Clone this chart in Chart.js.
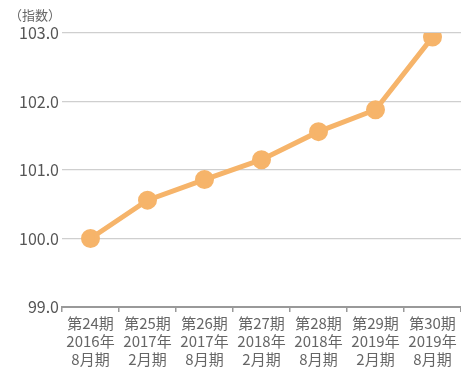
<!DOCTYPE html>
<html>
<head>
<meta charset="utf-8">
<script src="https://cdn.jsdelivr.net/npm/chart.js@4"></script>
<style>
  body { margin: 0; background: #fff; }
  #wrap { position: relative; width: 461px; height: 374px; }
  #unidad { position: absolute; left: 9px; top: 5px; font: 13px "Noto Sans CJK JP"; color: #666; }
</style>
</head>
<body>
<div id="wrap">
  <canvas id="grafica" width="461" height="374"></canvas>
  <div id="unidad">（指数）</div>
</div>
<script>
// periodos y valores del índice
const periodos = [
  ["第24期", "2016年", "8月期"],
  ["第25期", "2017年", "2月期"],
  ["第26期", "2017年", "8月期"],
  ["第27期", "2018年", "2月期"],
  ["第28期", "2018年", "8月期"],
  ["第29期", "2019年", "2月期"],
  ["第30期", "2019年", "8月期"]
];
const indice = [100.0, 100.56, 100.86, 101.15, 101.56, 101.88, 102.94];
const ejeY = { min: 99, max: 103, paso: 1 };

const naranja = "#f6b46a";
const fuente = "'Noto Sans CJK JP', sans-serif";

const ctx = document.getElementById("grafica").getContext("2d");

let grafico = new Chart(ctx, {
  type: "line",
  data: {
    labels: periodos,
    datasets: [
      {
        data: indice,
        borderColor: naranja,
        backgroundColor: naranja,
        borderWidth: 5,
        pointRadius: 7,
        pointHoverRadius: 7,
        fill: false,
        tension: 0,
      },
    ],
  },
  options: {
    responsive: false,
    animation: false,
    // sin autoPadding: el área llega hasta el borde derecho
    layout: { autoPadding: false, padding: { top: 33, right: 0, left: 0, bottom: 0 } },
    plugins: { legend: { display: false }, tooltip: { enabled: false } },
    scales: {
      x: {
        offset: true,
        grid: {
          offset: true,
          drawOnChartArea: false,
          drawTicks: true,
          tickLength: 5,
          color: "#999",
          lineWidth: 1.5,
        },
        border: { color: "#999", width: 2 },
        ticks: {
          color: "#666",
          font: { family: fuente, size: 15, lineHeight: 1.2 },
          padding: 2,
          maxRotation: 0,
          autoSkip: false,
        },
        afterFit: (scale) => {
          scale.height = 67;
          scale.paddingLeft = 0;
          scale.paddingRight = 0;
        },
      },
      y: {
        min: ejeY.min,
        max: ejeY.max,
        grid: { color: "#cfcfcf", lineWidth: 1.2, drawTicks: false },
        border: { display: false },
        ticks: {
          stepSize: ejeY.paso,
          color: "#555",
          padding: 3,
          font: { family: fuente, size: 16 },
          callback: (v) => v.toFixed(1),
        },
        afterFit: (scale) => { scale.width = 62; },
      },
    },
  },
});
</script>
</body>
</html>
